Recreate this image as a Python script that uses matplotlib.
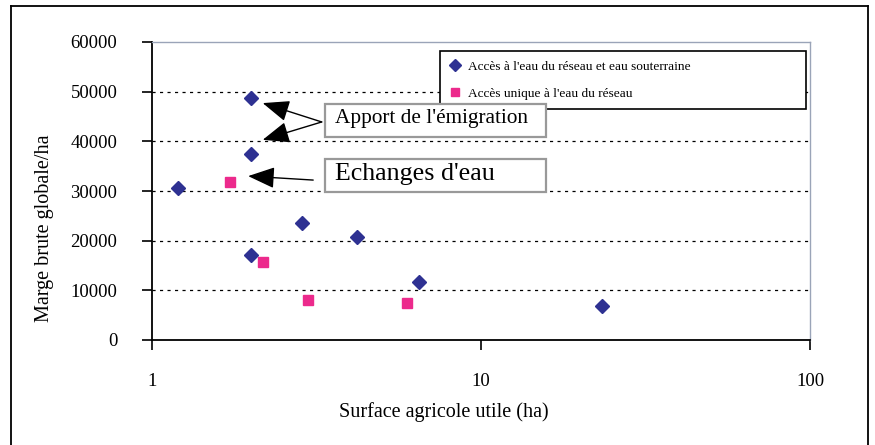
import matplotlib
matplotlib.use("Agg")
import matplotlib.pyplot as plt
from matplotlib.patches import Rectangle
from matplotlib.lines import Line2D

plt.rcParams['font.family'] = ['Liberation Serif', 'DejaVu Serif']

# Data
series1_label = "Accès à l'eau du réseau et eau souterraine"
series1_x = [1.2, 2.0, 2.0, 2.0, 2.85, 4.2, 6.5, 23.3]
series1_y = [30700, 48700, 37400, 17200, 23600, 20700, 11700, 6900]
series2_label = "Accès unique à l'eau du réseau"
series2_x = [1.73, 2.18, 2.98, 5.96]
series2_y = [31800, 15800, 8000, 7400]
y_ticks = [0, 10000, 20000, 30000, 40000, 50000, 60000]
x_ticks = [1, 10, 100]
x_label = "Surface agricole utile (ha)"
y_label = "Marge brute globale/ha"
note1 = "Apport de l'émigration"
note2 = "Echanges d'eau"

W, H = 875, 445
fig = plt.figure(figsize=(W / 100, H / 100), dpi=100)

def fx(px):
    return px / W

def fy(py):
    return 1 - py / H

# outer frame
for xs, ys in [([11, 11], [445, 6]), ([11, 868], [6, 6]), ([868, 868], [445, 6])]:
    fig.add_artist(Line2D([fx(v) for v in xs], [fy(v) for v in ys], color='black',
                          lw=1.3, transform=fig.transFigure))

ax = fig.add_axes([fx(152), fy(340), fx(810) - fx(152), fy(42) - fy(340)])
ax.set_xscale('log')
ax.set_xlim(1, 100)
ax.set_ylim(0, 60000)

for v in y_ticks[1:-1]:
    ax.axhline(v, color='black', lw=0.9, ls=(0, (2.5, 3.5)), zorder=1)

ax.spines['top'].set_color('#9aa4b8')
ax.spines['right'].set_color('#9aa4b8')
ax.spines['top'].set_linewidth(1.0)
ax.spines['right'].set_linewidth(1.0)
ax.spines['left'].set_linewidth(1.3)
ax.spines['bottom'].set_linewidth(1.3)

ax.set_yticks(y_ticks)
ax.set_yticklabels([str(v) for v in y_ticks])
ax.set_xticks(x_ticks)
ax.set_xticklabels([str(v) for v in x_ticks])
ax.minorticks_off()
ax.tick_params(axis='y', direction='out', length=7, width=1.2, pad=18, labelsize=13.5)
ax.tick_params(axis='x', direction='out', length=7, width=1.2, pad=17, labelsize=13.5)

ax.plot(series1_x, series1_y, ls='none', marker='D', ms=7.5, color='#2e3192',
        label=series1_label, zorder=3)
ax.plot(series2_x, series2_y, ls='none', marker='s', ms=7, color='#ec2a8c',
        label=series2_label, zorder=3)

leg = ax.legend(loc='upper left', bbox_to_anchor=(fx(440), fy(110), 366 / W, 59 / H),
                bbox_transform=fig.transFigure, mode='expand', borderaxespad=0,
                fancybox=False, frameon=True, edgecolor='black', framealpha=1,
                prop={'size': 9.6}, handlelength=0.9, handletextpad=0.5,
                labelspacing=1.1, borderpad=0.7, markerscale=0.85)
leg.get_frame().set_linewidth(1.2)
leg.set_zorder(5)

fig.text(fx(444), fy(412), x_label, ha='center', va='center', fontsize=14.5)
fig.text(fx(45), fy(228), y_label, ha='center', va='center', rotation=90, fontsize=14.5)

# annotation boxes
fig.add_artist(Rectangle((fx(325), fy(137)), fx(546) - fx(325), fy(104) - fy(137),
                         transform=fig.transFigure, fill=True, facecolor='white',
                         edgecolor='#999999', lw=1.6, zorder=4))
fig.add_artist(Rectangle((fx(325), fy(192)), fx(546) - fx(325), fy(159) - fy(192),
                         transform=fig.transFigure, fill=True, facecolor='white',
                         edgecolor='#999999', lw=1.6, zorder=4))
fig.text(fx(335), fy(119), note1, ha='left', va='center', fontsize=15.3, zorder=6)
fig.text(fx(335), fy(174), note2, ha='left', va='center', fontsize=18.7, zorder=6)

arrow = dict(arrowstyle='-|>,head_length=0.55,head_width=0.22', mutation_scale=30,
             color='black', lw=1.0, shrinkA=0, shrinkB=0)
ax.annotate('', xy=(2.17, 47700), xytext=(3.28, 43900), arrowprops=arrow, zorder=6)
ax.annotate('', xy=(2.17, 40300), xytext=(3.28, 43900), arrowprops=arrow, zorder=6)
ax.annotate('', xy=(1.96, 33000), xytext=(3.09, 32200), arrowprops=arrow, zorder=6)

fig.savefig('out.png', dpi=100)
